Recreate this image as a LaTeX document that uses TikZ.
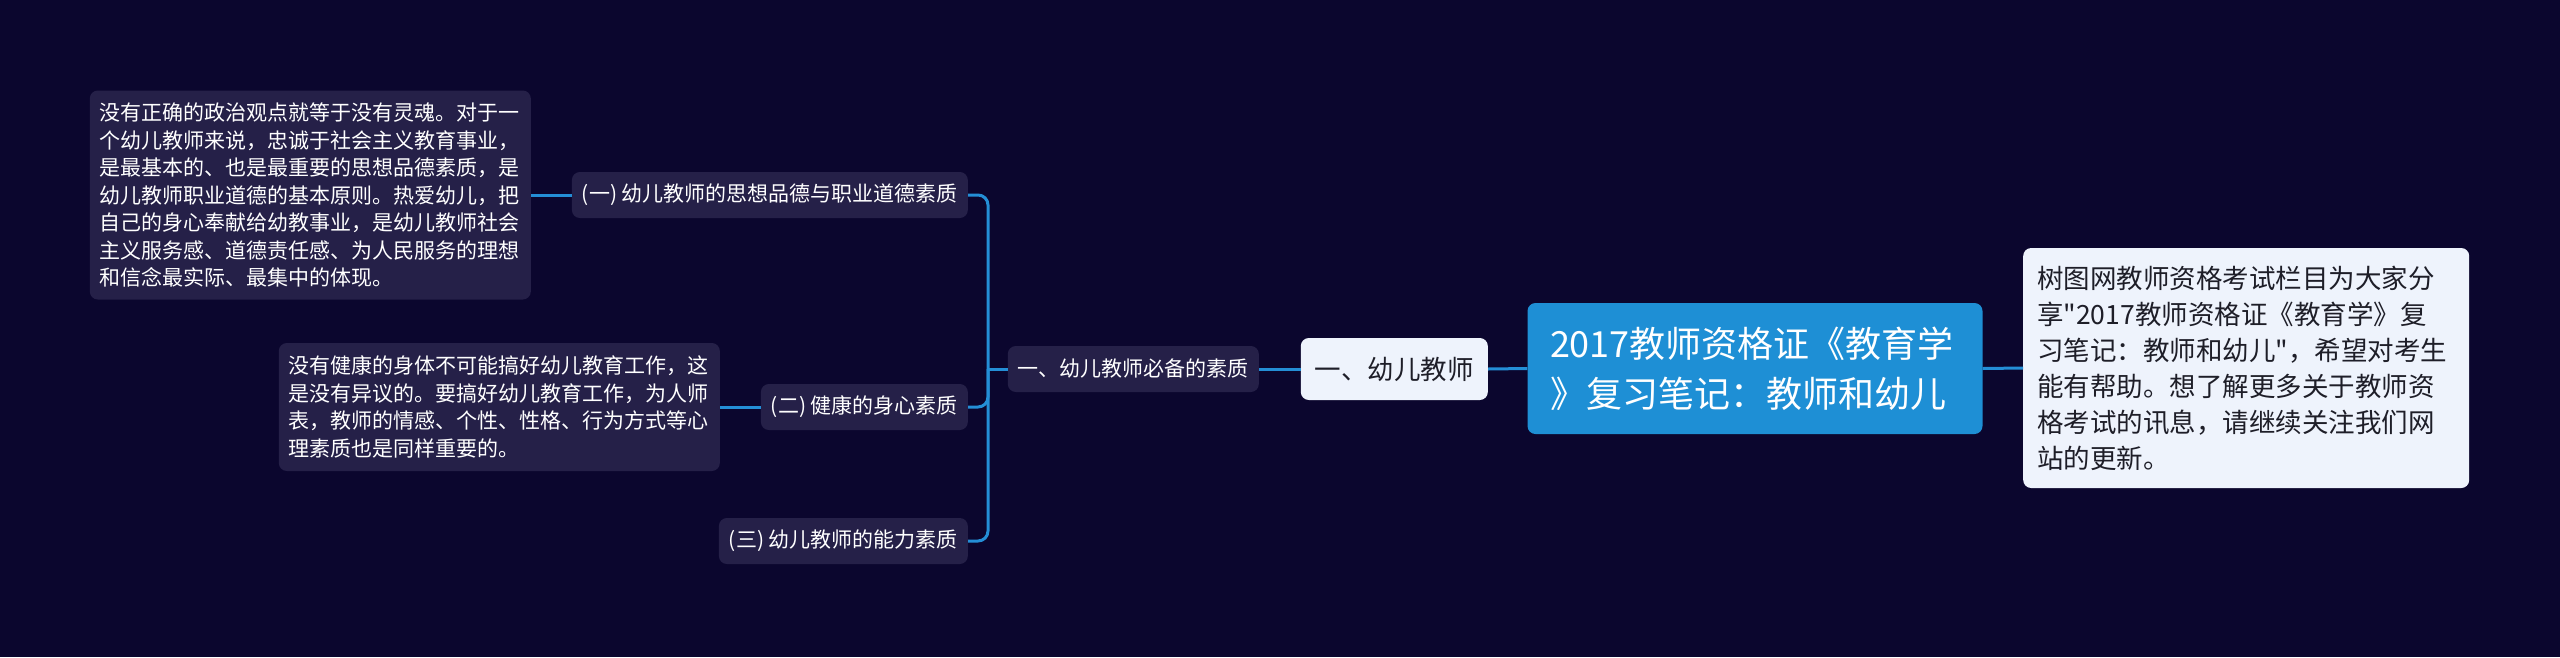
\documentclass[tikz,border=0pt]{standalone}
\usepackage{fontspec}
\setmainfont{Noto Sans CJK SC}
\newfontfamily\qfont{Noto Sans CJK SC}
\definecolor{bg}{RGB}{11,6,46}
\definecolor{darkbox}{RGB}{37,32,72}
\definecolor{linec}{RGB}{36,142,214}
\definecolor{rootc}{RGB}{30,143,213}
\definecolor{lightbox}{RGB}{238,243,252}
\definecolor{darktext}{RGB}{30,30,40}
\begin{document}
\begin{tikzpicture}[x=1pt,y=-1pt,
  dark/.style={fill=darkbox, text=white, rounded corners=8pt, inner xsep=10pt, inner ysep=0pt, font=\fontsize{21}{27.5}\selectfont},
  sub/.style={dark, minimum height=46pt},
  leaf/.style={dark, align=left, text width=421pt},
  whitebox/.style={fill=lightbox, text=darktext, rounded corners=8pt, inner xsep=14pt, inner ysep=0pt, font=\fontsize{26.5}{36}\selectfont},
  rootbox/.style={fill=rootc, text=white, rounded corners=8pt, inner xsep=22.5pt, inner ysep=0pt, align=left, text width=410pt, font=\fontsize{36}{50}\selectfont},
  notebox/.style={fill=lightbox, text=darktext, rounded corners=8pt, inner xsep=14pt, inner ysep=0pt, align=left, text width=418pt, font=\fontsize{26.5}{36}\selectfont},
  conn/.style={draw=linec, line width=3pt}]
\fill[bg] (0,0) rectangle (2560,657);
\useasboundingbox (0,0) rectangle (2560,657);

\node[rootbox, minimum height=131pt] (root) at (1755,368.5) {2017教师资格证《教育学\\》复习笔记：教师和幼儿};
\node[notebox, anchor=west, minimum height=240pt] (note) at (2023,368) {树图网教师资格考试栏目为大家分\\享{\qfont"}2017教师资格证《教育学》复\\习笔记：教师和幼儿{\qfont"}，希望对考生\\能有帮助。想了解更多关于教师资\\格考试的讯息，请继续关注我们网\\站的更新。};
\node[whitebox, anchor=east, minimum height=62pt] (n1) at (1488,369) {一、幼儿教师};
\node[sub, anchor=east] (m) at (1259,369) {一、幼儿教师必备的素质};
\coordinate (bj) at (988,369);
\node[sub, anchor=east] (c1) at (968,195) {(一) 幼儿教师的思想品德与职业道德素质};
\node[sub, anchor=east] (c2) at (968,407) {(二) 健康的身心素质};
\node[sub, anchor=east] (c3) at (968,541) {(三) 幼儿教师的能力素质};
\node[leaf, anchor=east, minimum height=209pt] (l1) at (531,195) {没有正确的政治观点就等于没有灵魂。对于一\\个幼儿教师来说，忠诚于社会主义教育事业，\\是最基本的、也是最重要的思想品德素质，是\\幼儿教师职业道德的基本原则。热爱幼儿，把\\自己的身心奉献给幼教事业，是幼儿教师社会\\主义服务感、道德责任感、为人民服务的理想\\和信念最实际、最集中的体现。};
\node[leaf, anchor=east, minimum height=128pt] (l2) at (720,407) {没有健康的身体不可能搞好幼儿教育工作，这\\是没有异议的。要搞好幼儿教育工作，为人师\\表，教师的情感、个性、性格、行为方式等心\\理素质也是同样重要的。};

\draw[conn] (root.east) -- (note.west);
\draw[conn] (root.west) -- (n1.east);
\draw[conn] (n1.west) -- (m.east);
\draw[conn] (m.west) -- (bj);
\draw[conn, rounded corners=10pt] (bj) |- (c1.east);
\draw[conn, rounded corners=10pt] (bj) |- (c2.east);
\draw[conn, rounded corners=10pt] (bj) |- (c3.east);
\draw[conn] (l1.east) -- (c1.west);
\draw[conn] (l2.east) -- (c2.west);
\end{tikzpicture}
\end{document}
